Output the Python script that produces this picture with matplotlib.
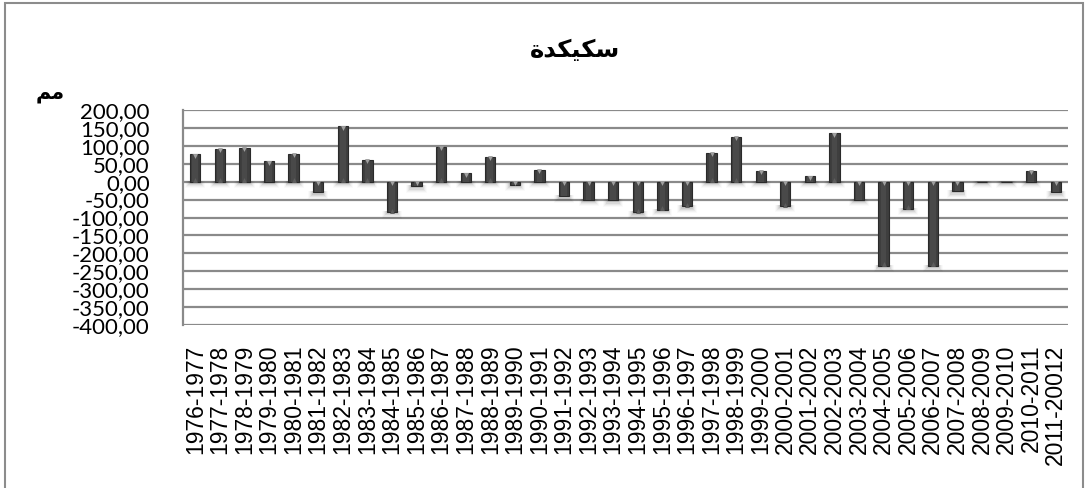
import matplotlib
matplotlib.use("Agg")
import matplotlib.pyplot as plt
from matplotlib.patches import Rectangle
import numpy as np

# Seasonal rainfall deviation (mm) for Skikda
seasons = [
    "1976-1977", "1977-1978", "1978-1979", "1979-1980", "1980-1981", "1981-1982",
    "1982-1983", "1983-1984", "1984-1985", "1985-1986", "1986-1987", "1987-1988",
    "1988-1989", "1989-1990", "1990-1991", "1991-1992", "1992-1993", "1993-1994",
    "1994-1995", "1995-1996", "1996-1997", "1997-1998", "1998-1999", "1999-2000",
    "2000-2001", "2001-2002", "2002-2003", "2003-2004", "2004-2005", "2005-2006",
    "2006-2007", "2007-2008", "2008-2009", "2009-2010", "2010-2011", "2011-20012",
]
deviation = [
    77, 91, 94, 57, 78, -30,
    155, 61, -85, -13, 97, 24,
    69, -8, 33, -41, -50, -52,
    -86, -78, -69, 81, 126, 31,
    -68, 15, 135, -51, -235, -76,
    -235, -27, 0, 0, 31, -30,
]
y_ticks = list(range(-400, 201, 50))

# Arabic text in presentation forms, visual (left-to-right) order
title_text = "\uFE93\uFEAA\uFEDC\uFEF4\uFEDC\uFEB3"   # سكيكدة
unit_text = "\uFEE2\uFEE3"                             # مم

W, H = 1087, 488
fig = plt.figure(figsize=(W / 100, H / 100), dpi=100)
fig.patch.set_facecolor("white")

# outer chart frame
fig.add_artist(Rectangle((5 / W, -0.05), (1083 - 5) / W, 1.05 - 3 / H,
                         transform=fig.transFigure, fill=False,
                         edgecolor="#8c8c8c", linewidth=1.5))

ax = fig.add_axes([183 / W, 1 - 325 / H, (1068 - 183) / W, (325 - 110) / H])
x = np.arange(len(seasons))
vals = np.array(deviation, dtype=float)
bw = 0.42

ax.set_xlim(-0.5, len(seasons) - 0.5)
ax.set_ylim(-400, 200)

# gridlines
for yv in y_ticks:
    ax.axhline(yv, color="#8a8a8a", linewidth=1.6, zorder=1)

# soft shadows beneath each bar
for xi, v in zip(x, vals):
    end = min(v, 0)
    for k, a in zip(range(6), [0.10, 0.08, 0.06, 0.045, 0.03, 0.02]):
        ax.add_patch(Rectangle((xi - bw / 2 - 0.04 * k, end - 3 - 3 * k),
                               bw + 0.08 * k, 6 + 3 * k,
                               facecolor="#000000", alpha=a, edgecolor="none",
                               zorder=2))

# bars
ax.bar(x, vals, width=bw, color="#3e3e3e", edgecolor="#2a2a2a",
       linewidth=0.8, zorder=3)
# lighter inner strip for a bevelled look
ax.bar(x, vals, width=bw * 0.55, color="#494949", edgecolor="none", zorder=4)

# small bevel marks at the top edge of each bar, and at the foot of long ones
for xi, v in zip(x, vals):
    if abs(v) < 8:
        continue
    top = max(v, 0)
    ax.plot([xi], [top - 4], marker="v", markersize=3.5, color="#a0a0a0",
            markeredgewidth=0, zorder=5)
    if abs(v) > 60:
        bottom = min(v, 0)
        ax.plot([xi], [bottom + 4], marker="^", markersize=3.5, color="#5c5c5c",
                markeredgewidth=0, zorder=5)

ax.set_yticks(y_ticks)
ax.set_yticklabels([f"{t:.2f}".replace(".", ",") for t in y_ticks],
                   fontsize=16, family="Lato")
ax.set_xticks(x)
ax.set_xticklabels(seasons, rotation=90, fontsize=16.5,
                   family="Liberation Sans", va="top", ha="center")
ax.tick_params(axis="y", length=0, pad=24)
ax.tick_params(axis="x", length=0, pad=14)

for side in ["top", "right", "bottom"]:
    ax.spines[side].set_visible(False)
ax.spines["left"].set_color("#8a8a8a")
ax.spines["left"].set_linewidth(1.6)
ax.set_facecolor("white")

fig.text(575 / W, 1 - 50 / H, title_text, fontsize=17.5, fontweight="bold",
         family="DejaVu Sans", ha="center", va="center")
fig.text(50 / W, 1 - 93 / H, unit_text, fontsize=15, fontweight="bold",
         family="DejaVu Sans", ha="center", va="center")

fig.savefig("out.png", dpi=100, facecolor="white")
